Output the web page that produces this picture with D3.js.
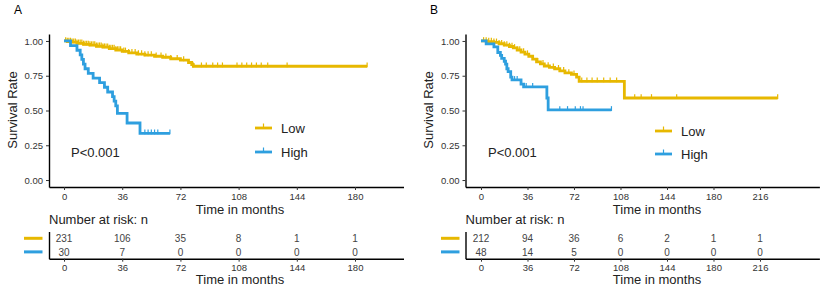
<!DOCTYPE html>
<html>
<head>
<meta charset="utf-8">
<script src="https://cdn.jsdelivr.net/npm/d3@7"></script>
<style>
  body { margin: 0; background: #fff; }
</style>
</head>
<body>
<div id="chart"></div>
<script>
var groups = ["Low", "High"];
var groupColors = ["#E7B800", "#2E9FDF"];
var survTicks = [0, 0.25, 0.5, 0.75, 1];
var monthTicksA = [0, 36, 72, 108, 144, 180];
var monthTicksB = [0, 36, 72, 108, 144, 180, 216];

// panel A: each curve is step times + survival after that step, and censor times
var lowTimesA = [0, 2, 5, 8, 12, 16, 20, 24, 28, 32, 36, 40, 45, 50, 56, 61, 66, 72, 77, 79, 80];
var lowSurvA = [1, 0.996, 0.991, 0.983, 0.975, 0.97, 0.962, 0.955, 0.945, 0.935, 0.925, 0.915, 0.905, 0.898, 0.89, 0.883, 0.872, 0.862, 0.845, 0.83, 0.818];
var lowCensA = [1, 2, 3, 4, 5, 6, 7, 8, 9, 10, 11, 12, 13, 14, 15, 16, 17, 18, 19, 20, 21, 22, 23, 24, 25, 26, 27, 28, 29, 30, 31, 32, 33, 34, 35, 37, 38, 40, 42, 44, 46, 48, 50, 52, 54, 57, 60, 63, 66, 70, 74, 80, 85, 88, 92, 95, 98, 107, 110, 113, 116, 119, 122, 126, 138, 187.5];
var highTimesA = [0, 4, 8, 10, 11, 12, 13, 15, 18, 22, 25, 27, 30, 31, 32, 33, 39, 47];
var highSurvA = [1, 0.967, 0.933, 0.9, 0.867, 0.833, 0.8, 0.767, 0.733, 0.7, 0.667, 0.633, 0.6, 0.567, 0.533, 0.48, 0.41, 0.336];
var highCensA = [50, 52, 54, 56, 58, 65.5];
var riskLowA = [231, 106, 35, 8, 1, 1];
var riskHighA = [30, 7, 0, 0, 0, 0];

// panel B
var lowTimesB = [0, 5, 10, 14, 18, 22, 25, 28, 31, 34, 37, 40, 43, 46, 49, 53, 57, 61, 65, 70, 74, 76, 111];
var lowSurvB = [1, 0.995, 0.99, 0.98, 0.97, 0.96, 0.95, 0.935, 0.92, 0.905, 0.89, 0.87, 0.85, 0.835, 0.82, 0.81, 0.8, 0.785, 0.77, 0.76, 0.74, 0.71, 0.59];
var lowCensB = [2, 4, 6, 8, 10, 12, 14, 16, 18, 20, 22, 24, 26, 28, 30, 33, 36, 40, 44, 48, 52, 56, 60, 64, 68, 72, 78, 82, 86, 90, 95, 100, 105, 119, 124, 132, 151.5, 229.7];
var highTimesB = [0, 4, 10, 13, 15, 16, 18, 19, 20, 21, 23, 24, 31, 33, 51, 52];
var highSurvB = [1, 0.979, 0.958, 0.917, 0.896, 0.875, 0.854, 0.833, 0.8, 0.78, 0.74, 0.72, 0.69, 0.67, 0.59, 0.504];
var highCensB = [26, 28, 35, 40, 61, 67, 73, 77, 79, 101];
var riskLowB = [212, 94, 36, 6, 2, 1, 1];
var riskHighB = [48, 14, 5, 0, 0, 0, 0];

var panels = [
    {
        label: "A", labelX: 14, titleX: 240, pX: 71, keyX: 24,
        legendX: 255, legendY: [128, 152],
        x: d3.scaleLinear().domain([-9.3, 210]).range([49, 403.5]),
        ticks: monthTicksA,
        curves: [
            { times: lowTimesA, surv: lowSurvA, cens: lowCensA },
            { times: highTimesA, surv: highSurvA, cens: highCensA }
        ],
        risk: [riskLowA, riskHighA]
    },
    {
        label: "B", labelX: 430, titleX: 657, pX: 488, keyX: 441,
        legendX: 655, legendY: [131, 154],
        x: d3.scaleLinear().domain([-12, 262]).range([465.5, 819.4]),
        ticks: monthTicksB,
        curves: [
            { times: lowTimesB, surv: lowSurvB, cens: lowCensB },
            { times: highTimesB, surv: highSurvB, cens: highCensB }
        ],
        risk: [riskLowB, riskHighB]
    }
];

var y = d3.scaleLinear().domain([-0.05, 1.05]).range([187, 34]);
var yRisk = d3.scalePoint().domain(groups).range([231.5, 258.7]).padding(0.5);

var svg = d3.select("#chart")
    .append("svg")
    .attr("width", 825)
    .attr("height", 292)
    .style("font-family", '"Liberation Sans", Arial, sans-serif');

panels.forEach(function (p) { makePanel(svg, p); });

function survAt(c, t) {
    var i = d3.bisectRight(c.times, t) - 1;
    return c.surv[Math.max(i, 0)];
}

function styleAxis(g) {
    g.attr("font-family", null).attr("font-size", 9.5);
    g.select(".domain").attr("stroke", "#000").attr("stroke-width", 1.4);
    g.selectAll(".tick line").attr("stroke", "#333");
    g.selectAll(".tick text").attr("fill", "#333");
}

function makePanel(svg, p) {
    var x = p.x;
    var x0 = x.range()[0];

    svg.append("text")
        .attr("x", p.labelX)
        .attr("y", 10)
        .attr("dy", "0.36em")
        .style("font-size", "12px")
        .text(p.label);

    // y axis + title
    svg.append("g")
        .attr("transform", "translate(" + x0 + ",0)")
        .call(d3.axisLeft(y).tickValues(survTicks).tickFormat(d3.format(".2f")).tickSizeInner(3).tickSizeOuter(0))
        .call(styleAxis);

    svg.append("text")
        .attr("transform", "translate(" + (p.labelX - 1.5) + ",110) rotate(-90)")
        .attr("text-anchor", "middle")
        .attr("dy", "0.36em")
        .style("font-size", "13px")
        .attr("fill", "#222")
        .text("Survival Rate");

    svg.append("g")
        .attr("transform", "translate(0,187)")
        .call(d3.axisBottom(x).tickValues(p.ticks).tickSizeInner(3).tickSizeOuter(0))
        .call(styleAxis);

    svg.append("text")
        .attr("x", p.titleX)
        .attr("y", 213.5)
        .attr("text-anchor", "middle")
        .style("font-size", "13px")
        .attr("fill", "#222")
        .text("Time in months");

    // curves
    var line = d3.line()
        .x(function (d) { return x(d[0]); })
        .y(function (d) { return y(d[1]); })
        .curve(d3.curveStepAfter);

    p.curves.forEach(function (c, k) {
        var pts = c.times.map(function (t, i) { return [t, c.surv[i]]; });
        var end = Math.max(d3.max(c.cens), d3.max(c.times));
        pts.push([end, c.surv[c.surv.length - 1]]);

        svg.append("path")
            .datum(pts)
            .attr("fill", "none")
            .attr("stroke", groupColors[k])
            .attr("stroke-width", 2.8)
            .attr("d", line);

        svg.append("g")
            .selectAll("line")
            .data(c.cens)
            .enter().append("line")
            .attr("x1", function (t) { return x(t); })
            .attr("x2", function (t) { return x(t); })
            .attr("y1", function (t) { return y(survAt(c, t)) - 3.8; })
            .attr("y2", function (t) { return y(survAt(c, t)) + 1; })
            .attr("stroke", groupColors[k])
            .attr("stroke-width", 1.2);
    });

    // p value
    svg.append("text")
        .attr("x", p.pX)
        .attr("y", 152)
        .attr("dy", "0.36em")
        .style("font-size", "13px")
        .attr("fill", "#222")
        .text("P<0.001");

    // legend
    groups.forEach(function (name, k) {
        var ly = p.legendY[k];
        svg.append("line")
            .attr("x1", p.legendX).attr("x2", p.legendX + 17)
            .attr("y1", ly).attr("y2", ly)
            .attr("stroke", groupColors[k])
            .attr("stroke-width", 2.8);
        svg.append("line")
            .attr("x1", p.legendX + 8.5).attr("x2", p.legendX + 8.5)
            .attr("y1", ly - 4.5).attr("y2", ly + 1)
            .attr("stroke", groupColors[k])
            .attr("stroke-width", 1.2);
        svg.append("text")
            .attr("x", p.legendX + 26)
            .attr("y", ly)
            .attr("dy", "0.36em")
            .style("font-size", "13px")
            .attr("fill", "#222")
            .text(name);
    });

    // risk table
    svg.append("text")
        .attr("x", x0)
        .attr("y", 224)
        .style("font-size", "13px")
        .attr("fill", "#222")
        .text("Number at risk: n");

    svg.append("g")
        .attr("transform", "translate(" + x0 + ",0)")
        .call(d3.axisLeft(yRisk).tickSize(0).tickFormat(""))
        .call(styleAxis);

    svg.append("g")
        .attr("transform", "translate(0,258.7)")
        .call(d3.axisBottom(x).tickValues(p.ticks).tickSizeInner(3).tickSizeOuter(0))
        .call(styleAxis);

    groups.forEach(function (name, k) {
        svg.append("line")
            .attr("x1", p.keyX).attr("x2", p.keyX + 18.5)
            .attr("y1", yRisk(name)).attr("y2", yRisk(name))
            .attr("stroke", groupColors[k])
            .attr("stroke-width", 3);

        svg.append("g")
            .selectAll("text")
            .data(p.risk[k])
            .enter().append("text")
            .attr("x", function (d, i) { return x(p.ticks[i]); })
            .attr("y", yRisk(name))
            .attr("dy", "0.36em")
            .attr("text-anchor", "middle")
            .style("font-size", "10px")
            .attr("fill", "#444")
            .text(function (d) { return d; });
    });

    svg.append("text")
        .attr("x", p.titleX)
        .attr("y", 284)
        .attr("text-anchor", "middle")
        .style("font-size", "13px")
        .attr("fill", "#222")
        .text("Time in months");
}
</script>
</body>
</html>
